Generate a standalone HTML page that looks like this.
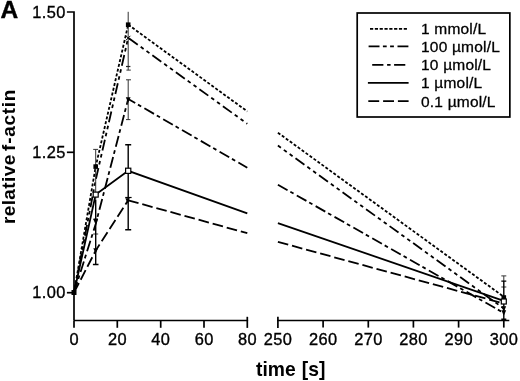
<!DOCTYPE html>
<html><head><meta charset="utf-8">
<style>
html,body{margin:0;padding:0;background:#fff;width:520px;height:381px;overflow:hidden}
svg{display:block;will-change:transform;font-family:"Liberation Sans",sans-serif}
</style></head>
<body>
<svg width="520" height="381" viewBox="0 0 520 381">
<rect width="520" height="381" fill="#fff"/>
<text x="0.6" y="18.3" font-size="24.5" font-weight="bold" fill="#000" stroke="#000" stroke-width="0.4">A</text>
<g font-size="19" font-weight="bold" fill="#000"><text transform="translate(14.6,224.1) rotate(-90)" letter-spacing="0.4">relative</text>
<text transform="translate(14.6,150.9) rotate(-90)" letter-spacing="0.72">f-actin</text></g>
<g font-size="19.3" font-weight="bold" fill="#000"><text x="256" y="376.0">time</text><text x="301.8" y="376.0">[s]</text></g>
<g stroke="#000" stroke-width="1.7" fill="none" stroke-linecap="butt">
<path d="M66.9 12H74V320.5"/>
<path d="M66.9 152.3H74"/>
<path d="M66.9 292.7H74"/>
<path d="M74 320.5H248.1"/>
<path d="M74.0 320.5V327.8"/>
<path d="M117.3 320.5V327.8"/>
<path d="M160.7 320.5V327.8"/>
<path d="M204.0 320.5V327.8"/>
<path d="M247.3 316.8V327.9"/>
<path d="M277.1 320.5H509.3"/>
<path d="M277.9 316.8V327.9"/>
<path d="M323.1 320.5V327.6"/>
<path d="M368.3 320.5V327.6"/>
<path d="M413.4 320.5V327.6"/>
<path d="M458.6 320.5V327.6"/>
<path d="M503.8 320.5V327.6"/>
</g>
<g font-size="16.4" letter-spacing="0.4" fill="#000" stroke="#000" stroke-width="0.35" text-anchor="end">
<text x="65.8" y="17.9">1.50</text>
<text x="65.8" y="158.1">1.25</text>
<text x="65.8" y="298.4">1.00</text>
</g>
<g font-size="16.4" letter-spacing="0.4" fill="#000" stroke="#000" stroke-width="0.35" text-anchor="middle">
<text x="74.2" y="345.3">0</text>
<text x="117.5" y="345.3">20</text>
<text x="160.8" y="345.3">40</text>
<text x="204.2" y="345.3">60</text>
<text x="247.5" y="345.3">80</text>
<text x="278.1" y="345.3">250</text>
<text x="323.3" y="345.3">260</text>
<text x="368.5" y="345.3">270</text>
<text x="413.6" y="345.3">280</text>
<text x="458.8" y="345.3">290</text>
<text x="504.0" y="345.3">300</text>
</g>
<g stroke="#000" stroke-width="1.8" fill="none">
<path stroke-dasharray="3 1.9" d="M74.0 292.7L95.7 166.6L128.2 24.7"/>
<path stroke-dasharray="3 1.9" d="M128.2 24.7L247.3 111.4"/>
<path stroke-dasharray="3 1.9" d="M277.9 132.7L503.8 296.8"/>
<path stroke-dasharray="11 3.6 3.6 3.6 3.6 3.6" d="M74.0 292.7L95.7 180.0L128.2 37.8"/>
<path stroke-dasharray="11 3.6 3.6 3.6 3.6 3.6" stroke-dashoffset="-0.8" d="M128.2 37.8L247.3 123.8"/>
<path stroke-dasharray="11 3.6 3.6 3.6 3.6 3.6" stroke-dashoffset="7.3" d="M277.9 145.6L503.8 308.5"/>
<path stroke-dasharray="11.1 3.2 3.7 3.7" d="M74.0 292.7L95.7 224.0L128.2 99.0"/>
<path stroke-dasharray="11.1 3.2 3.7 3.7" stroke-dashoffset="3.0" d="M128.2 99.0L247.3 167.7"/>
<path stroke-dasharray="11.1 3.2 3.7 3.7" d="M277.9 184.7L503.8 313.0"/>
<path d="M74.0 292.7L95.7 194.6L128.2 170.8L247.3 213.4"/>
<path d="M277.9 223.1L503.8 300.8"/>
<path stroke-dasharray="10.7 3.9" d="M74.0 292.7L95.7 250.6L128.2 200.3"/>
<path stroke-dasharray="10.7 3.9" d="M128.2 200.3L247.3 233.2"/>
<path stroke-dasharray="10.7 3.9" d="M277.9 241.9L503.8 303.5"/>
</g>
<g stroke="#333" stroke-width="1.0" fill="none">
<path d="M128.2 11.8V70.1M126.4 70.1H130.8"/>
<path d="M128.2 79.8V119.6M126.0 79.8H131.0M126.0 119.6H130.4"/>
<path stroke="#222" stroke-width="1.2" d="M126.0 66.5H130.4"/>
<path d="M95.7 149.4V200M93.2 149.4H98.0M93.2 234H98.2"/>
<path d="M503.8 275.9V281M501.3 275.9H506.3M501.3 287H506.3"/>
</g>
<g stroke="#000" stroke-width="1.4" fill="none">
<path d="M128.2 144.8V229.8M125.2 144.8H131.2M125.2 229.8H131.2"/>
<path d="M95.7 200V264.5M92.9 264.5H98.5M93.5 219.3H97.9"/>
<path stroke-width="1.2" d="M125.2 197.5H131.6"/>
<path d="M503.8 281V320M501.3 281.1H506.3M501.3 319.2H506.3"/>
</g>
<g fill="#000">
<rect x="71.5" y="290.0" width="5" height="5"/>
<rect x="125.9" y="22.4" width="4.6" height="4.6"/>
<rect x="93.4" y="164.3" width="4.6" height="4.6"/>
<rect x="501.5" y="295.2" width="4.6" height="4.6"/>
<path d="M125.8 97.2H130.6L128.2 102.8Z"/>
<path d="M93.3 219.2H98.1L95.7 224.8Z"/>
<path d="M93.3 248.2H98.1L95.7 253.8Z"/>
<path d="M125.4 198.2H129.8L127.6 203.8Z"/>
<path d="M501.4 306.2H506.2L503.8 311.8Z"/>
<path d="M501.4 310.2H506.2L503.8 315.8Z"/>
</g>
<g stroke="#000" stroke-width="1" fill="none">
<path d="M126.0 35.8L130.4 40.2M130.4 35.8L126.0 40.2"/>
</g>
<g fill="#fff" stroke="#000" stroke-width="1.2">
<rect x="125.6" y="168.2" width="5.2" height="5.2"/>
<rect x="93.2" y="192.1" width="5" height="5"/>
<rect x="501.3" y="299.0" width="5" height="5"/>
</g>
<rect x="357.2" y="13.0" width="152.65" height="104" fill="none" stroke="#000" stroke-width="1.7"/>
<g stroke="#000" stroke-width="1.8" fill="none">
<path stroke-dasharray="3.2 1.62" d="M370 28.8H407.3"/>
<path stroke-dasharray="10.9 3.4 3.8 3.4 3.8 3.6" d="M368.6 46.3H408.9"/>
<path stroke-dasharray="11.2 3.7 3.5 3.5" d="M372.2 64.8H405.4"/>
<path d="M367.9 82.9H408.6"/>
<path stroke-dasharray="10.9 3.9" d="M368.3 101.1H408.6"/>
</g>
<g font-size="15.5" letter-spacing="0.2" fill="#000" stroke="#000" stroke-width="0.3">
<text x="421" y="34.1">1 mmol/L</text>
<text x="421" y="51.8">100 µmol/L</text>
<text x="421" y="70.1">10 µmol/L</text>
<text x="421" y="88.1">1 µmol/L</text>
<text x="421" y="106.5">0.1 µmol/L</text>
</g>
</svg>
</body></html>
